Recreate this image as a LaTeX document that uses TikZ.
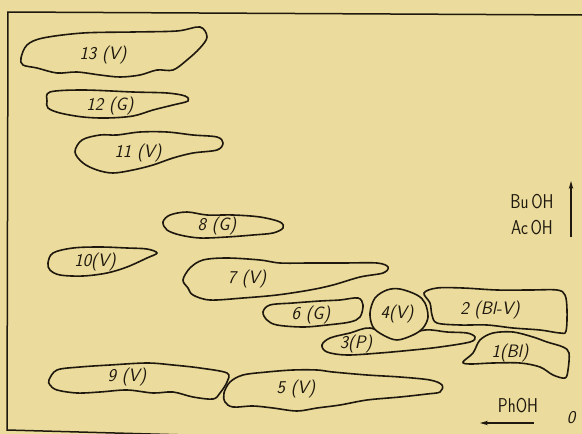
\documentclass[tikz,border=0pt]{standalone}
\usetikzlibrary{arrows.meta}
\definecolor{paper}{RGB}{235,219,156}
\definecolor{ink}{RGB}{30,24,14}
\newcommand{\narrowtext}[1]{\scalebox{0.82}[1]{#1}}
\tikzset{
  spot/.style={draw=ink, line width=1.6pt, smooth cycle, tension=0.55},
  spotfill/.style={spot, fill=paper},
  lbl/.style={font=\sffamily\itshape\fontsize{18}{18}\selectfont, text=ink, inner sep=0pt},
  solvent/.style={font=\sffamily\fontsize{20}{20}\selectfont, text=ink, inner sep=0pt},
  frameline/.style={draw=ink, line width=1.5pt},
  dirarrow/.style={draw=ink, line width=1.4pt, -{Stealth[length=8pt,width=4.5pt]}}
}
\begin{document}
\begin{tikzpicture}[x=1pt,y=-1pt]
\fill[paper] (0,0) rectangle (582,434);
\useasboundingbox (0,0) rectangle (582,434);
\begin{scope}
\clip (0,0) rectangle (582,434);
% frame of the chromatogram
\draw[frameline] (582,15) -- (8,12) -- (7,430) -- (582,446);

% 13 (V)
\draw[spot] plot coordinates {(21,58) (27,45) (43,38) (83,33) (133,32) (177,31) (200,27) (207,37) (200,48) (187,60) (173,70) (157,70) (140,75) (120,77) (100,75) (77,72) (57,73) (37,68) (23,65)};
% 12 (G)
\draw[spot] plot coordinates {(47,101) (50,92) (83,90) (133,92) (167,93) (185,96) (188,101) (173,105) (153,110) (133,116) (107,118) (83,117) (60,113) (48,108)};
% 11 (V)
\draw[spot] plot coordinates {(75,152) (82,140) (100,135) (117,135) (140,132) (167,132) (193,135) (217,137) (223,143) (217,150) (193,153) (173,158) (153,165) (133,170) (113,173) (97,170) (83,163)};
% 8 (G)
\draw[spot] plot coordinates {(163,222) (170,215) (187,212) (207,215) (233,215) (260,217) (280,222) (283,228) (273,233) (253,235) (227,237) (200,238) (180,235) (167,230)};
% 10 (V)
\draw[spot] plot coordinates {(48,263) (53,253) (73,248) (100,247) (127,248) (147,249) (157,253) (147,258) (127,267) (107,273) (83,276) (60,275) (50,270)};
% 7 (V)
\draw[spot] plot coordinates {(183,280) (190,268) (203,260) (227,258) (260,260) (280,263) (310,263) (343,263) (377,263) (388,267) (383,273) (360,277) (333,285) (310,290) (277,295) (243,298) (210,300) (193,295) (188,288)};
% 6 (G)
\draw[spot] plot coordinates {(263,312) (270,305) (293,303) (320,301) (340,300) (358,298) (363,305) (360,317) (350,322) (327,325) (303,327) (277,325) (267,320)};
% 3 (P), partly hidden under 4 (V)
\draw[spot] plot coordinates {(322,345) (330,338) (350,333) (370,328) (395,337) (425,330) (447,332) (467,333) (475,337) (470,342) (440,347) (413,350) (380,353) (347,355) (327,352)};
% 4 (V)
\draw[spotfill] plot coordinates {(370,313) (375,298) (387,290) (400,289) (417,295) (425,303) (428,317) (423,328) (413,335) (397,340) (383,335) (373,327)};
% 2 (Bl-V)
\draw[spot] plot coordinates {(424,293) (437,288) (463,288) (497,290) (530,290) (557,290) (565,295) (567,310) (566,331) (560,333) (540,330) (513,328) (487,325) (460,325) (437,323) (432,315) (430,303)};
% 1 (Bl)
\draw[spot] plot coordinates {(463,362) (473,353) (480,340) (493,333) (513,332) (533,337) (547,342) (563,347) (569,353) (568,370) (565,378) (553,375) (540,367) (520,363) (493,363) (470,364)};
% 9 (V)
\draw[spot] plot coordinates {(49,380) (57,370) (80,367) (110,365) (147,363) (173,365) (200,368) (227,373) (227,382) (220,393) (213,399) (193,397) (173,392) (153,393) (127,390) (100,392) (77,393) (57,390) (50,385)};
% 5 (V)
\draw[spot] plot coordinates {(224,393) (230,382) (243,375) (267,372) (293,370) (317,370) (333,372) (367,375) (400,377) (430,380) (442,385) (440,392) (427,394) (400,397) (367,400) (340,405) (317,408) (297,411) (273,408) (253,406) (233,407) (225,402)};
\end{scope}

% spot labels
\node[lbl] (s13) at (103,55) {13 (V)};
\node[lbl] (s12) at (110,106) {12 (G)};
\node[lbl] (s11) at (138,153) {11 (V)};
\node[lbl] (s8)  at (217,226) {8 (G)};
\node[lbl] (s10) at (95,262) {10(V)};
\node[lbl] (s7)  at (247,279) {7 (V)};
\node[lbl] (s6)  at (311,315) {6 (G)};
\node[lbl] (s4)  at (397,314) {4(V)};
\node[lbl] (s2)  at (490,310) {2 (Bl-V)};
\node[lbl] (s3)  at (356,344) {3(P)};
\node[lbl] (s1)  at (510,353) {1(Bl)};
\node[lbl] (s9)  at (127,377) {9 (V)};
\node[lbl] (s5)  at (296,389) {5 (V)};

% solvent directions
\node[solvent] (buoh) at (532,202) {\narrowtext{Bu\,OH}};
\node[solvent] (acoh) at (532,228) {\narrowtext{Ac\,OH}};
\coordinate (upfoot) at (571,237);
\coordinate (uphead) at (571,181);
\draw[dirarrow] (upfoot) -- (uphead);
\node[solvent] (phoh) at (518,406) {\narrowtext{PhOH}};
\coordinate (leftfoot) at (534,423);
\coordinate (lefthead) at (480,423);
\draw[dirarrow] (leftfoot) -- (lefthead);
\node[lbl] (origin) at (571,418) {0};
\end{tikzpicture}
\end{document}
